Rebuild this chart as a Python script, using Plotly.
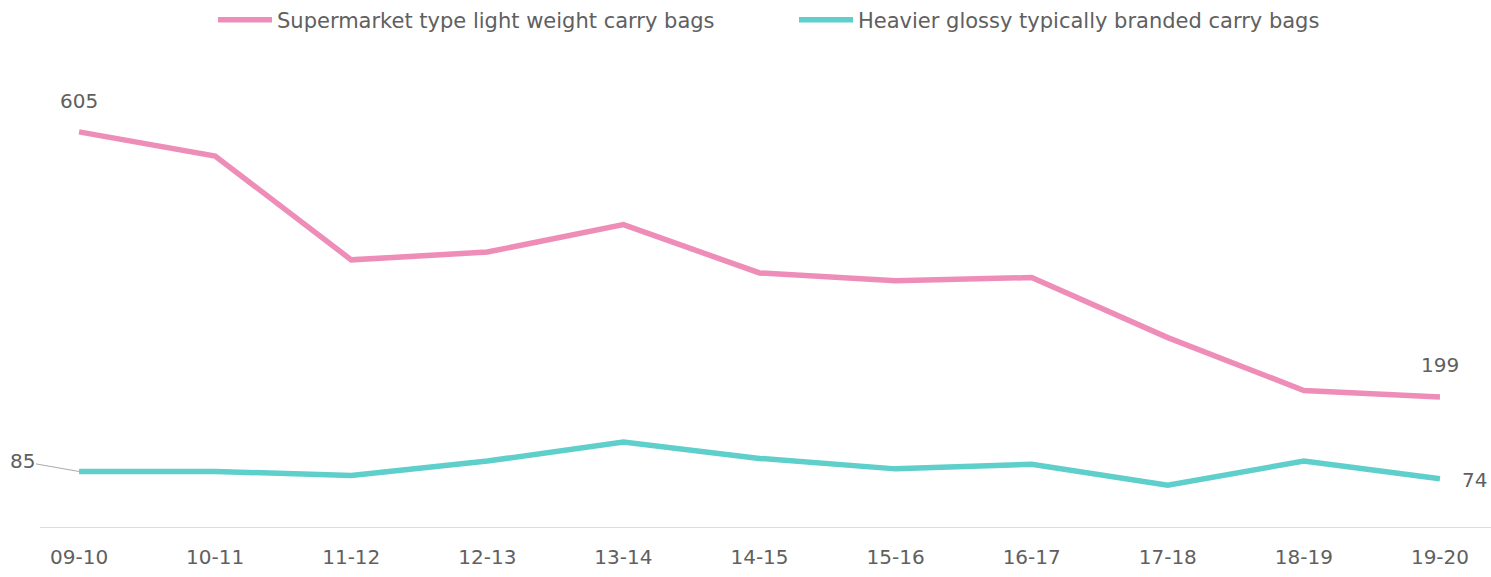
import plotly.graph_objects as go

years = ["09-10", "10-11", "11-12", "12-13", "13-14", "14-15", "15-16", "16-17", "17-18", "18-19", "19-20"]
supermarket = [605, 568, 409, 421, 463, 389, 377, 382, 290, 209, 199]
heavier = [85, 85, 79, 101, 130, 105, 89, 96, 64, 101, 74]

pink = "#EF8DB9"
teal = "#5ECFCB"
font_fam = "'DejaVu Sans', sans-serif"
txt = "#606060"

fig = go.Figure()
fig.add_trace(go.Scatter(x=years, y=supermarket, mode="lines", name="Supermarket type light weight carry bags",
                         line=dict(color=pink, width=5.5)))
fig.add_trace(go.Scatter(x=years, y=heavier, mode="lines", name="Heavier glossy typically branded carry bags",
                         line=dict(color=teal, width=5.5)))

lab = dict(size=20, color=txt, family=font_fam)
fig.add_annotation(x=years[0], y=supermarket[0], text=str(supermarket[0]), showarrow=False,
                   yshift=31, font=lab)
fig.add_annotation(x=years[-1], y=supermarket[-1], text=str(supermarket[-1]), showarrow=False,
                   yshift=32, font=lab)
fig.add_annotation(x=years[-1], y=heavier[-1], text=str(heavier[-1]), showarrow=False,
                   xshift=35, yshift=-1, font=lab)
fig.add_annotation(x=years[0], y=heavier[0], text=str(heavier[0]), showarrow=True, arrowhead=0,
                   arrowwidth=1, arrowcolor="#aaaaaa", ax=-57, ay=-10, standoff=0,
                   font=lab)

fig.update_layout(
    width=1491, height=577,
    paper_bgcolor="white", plot_bgcolor="white",
    margin=dict(l=40, r=0, t=60, b=50, autoexpand=False),
    font=dict(family=font_fam, color=txt, size=20),
    showlegend=True,
    legend=dict(orientation="h", xref="container", x=213 / 1491, xanchor="left",
                yref="paper", y=1.0857, yanchor="middle",
                font=dict(size=21, color=txt, family=font_fam), itemwidth=54,
                entrywidth=512),
    xaxis=dict(type="category", range=[-0.287, 10.375], showgrid=False, showline=True,
               linecolor="#dcdcdc", linewidth=1, ticks="", tickfont=dict(size=20, color=txt),
               zeroline=False, automargin=False, ticklabelstandoff=12),
    yaxis=dict(range=[0, 715], showgrid=False, showticklabels=False, zeroline=False,
               showline=False, automargin=False),
)

fig.write_html("out.html", config={"displayModeBar": False},
               post_script="document.body.style.margin='0px';document.body.style.overflow='hidden';")
